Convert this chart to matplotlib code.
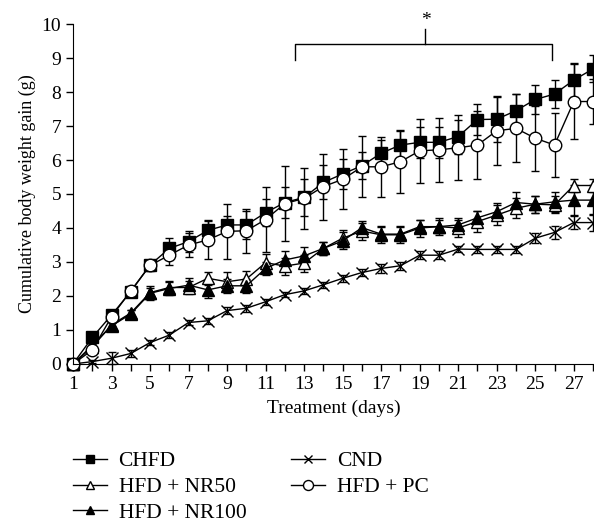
import numpy as np
import matplotlib
matplotlib.use("Agg")
from matplotlib import pyplot as plt

plt.rcParams['font.family'] = ['Liberation Serif', 'DejaVu Serif']

days = list(range(1, 29))

chfd = [0, 0.78, 1.44, 2.13, 2.91, 3.4, 3.6, 3.93, 4.09, 4.09, 4.45, 4.75, 4.9, 5.34,
        5.59, 5.83, 6.2, 6.44, 6.52, 6.52, 6.69, 7.19, 7.2, 7.45, 7.78, 7.94, 8.35, 8.68]
chfd_err = [0, 0.1, 0.12, 0.12, 0.12, 0.3, 0.3, 0.3, 0.25, 0.4, 0.4, 0.45, 0.55, 0.5,
            0.45, 0.4, 0.4, 0.4, 0.45, 0.45, 0.5, 0.45, 0.68, 0.5, 0.42, 0.4, 0.5, 0.4]

nr50 = [0, 0.5, 1.15, 1.5, 2.1, 2.25, 2.25, 2.52, 2.42, 2.5, 2.98, 2.88, 2.97, 3.4,
        3.7, 3.91, 3.8, 3.8, 4.0, 4.04, 4.0, 4.19, 4.38, 4.58, 4.7, 4.68, 5.25, 5.25]
nr50_err = [0, 0.08, 0.1, 0.1, 0.15, 0.2, 0.2, 0.2, 0.3, 0.25, 0.25, 0.25, 0.25, 0.2,
            0.25, 0.25, 0.25, 0.25, 0.25, 0.25, 0.25, 0.3, 0.3, 0.3, 0.25, 0.25, 0.2, 0.2]

nr100 = [0, 0.55, 1.12, 1.47, 2.08, 2.22, 2.32, 2.18, 2.3, 2.3, 2.81, 3.06, 3.18, 3.4,
         3.62, 4.01, 3.82, 3.82, 4.04, 4.04, 4.09, 4.3, 4.48, 4.75, 4.7, 4.77, 4.82, 4.82]
nr100_err = [0, 0.08, 0.1, 0.12, 0.2, 0.2, 0.2, 0.25, 0.2, 0.2, 0.2, 0.25, 0.25, 0.2,
             0.25, 0.2, 0.2, 0.2, 0.2, 0.2, 0.2, 0.2, 0.25, 0.3, 0.25, 0.3, 0.45, 0.45]

cnd = [0, 0.07, 0.17, 0.31, 0.63, 0.85, 1.22, 1.27, 1.57, 1.64, 1.83, 2.04, 2.15, 2.33,
       2.52, 2.69, 2.81, 2.89, 3.2, 3.2, 3.38, 3.37, 3.37, 3.37, 3.7, 3.87, 4.16, 4.16]
cnd_err = [0, 0.05, 0.18, 0.1, 0.08, 0.08, 0.08, 0.08, 0.1, 0.1, 0.08, 0.08, 0.08, 0.08,
           0.1, 0.1, 0.12, 0.12, 0.12, 0.12, 0.1, 0.1, 0.1, 0.1, 0.15, 0.2, 0.2, 0.25]

pc = [0, 0.41, 1.39, 2.15, 2.9, 3.2, 3.5, 3.65, 3.9, 3.92, 4.25, 4.72, 4.87, 5.22,
      5.43, 5.8, 5.8, 5.95, 6.27, 6.3, 6.36, 6.44, 6.86, 6.93, 6.64, 6.44, 7.72, 7.72]
pc_err = [0, 0.1, 0.1, 0.12, 0.15, 0.3, 0.35, 0.55, 0.8, 0.65, 0.95, 1.1, 0.9, 0.97,
          0.88, 0.9, 0.88, 0.93, 0.94, 0.95, 0.95, 1.0, 1.0, 1.0, 0.95, 0.95, 1.1, 0.65]

labels = ['CHFD', 'HFD + NR50', 'HFD + NR100', 'CND', 'HFD + PC']

# bracket for significance
br_start, br_end, br_mid = 12.52, 25.86, 19.3
br_y, br_low, br_top = 9.4, 8.94, 9.84

fig = plt.figure(figsize=(5.94, 5.22), dpi=100)
ax = fig.add_axes([73 / 594, 158 / 522, 521 / 594, 340 / 522])

styles = [
    dict(marker='s', mfc='black', ms=8),
    dict(marker='^', mfc='white', ms=8),
    dict(marker='^', mfc='black', ms=8),
    dict(marker='x', mfc='black', ms=8, mew=1.0),
    dict(marker='o', mfc='white', ms=9),
]
series = [(chfd, chfd_err), (nr50, nr50_err), (nr100, nr100_err),
          (cnd, cnd_err), (pc, pc_err)]

handles = []
for (vals, err), st, lab in zip(series, styles, labels):
    eb = ax.errorbar(days, vals, yerr=err, color='black', mec='black', lw=1.0,
                     elinewidth=1.0, capsize=3, capthick=1.0, label=lab,
                     clip_on=False, **st)
    handles.append(eb[0])

ax.set_xlim(1, 28.05)
ax.set_ylim(0, 10)
ax.set_xticks(range(1, 29, 2))
ax.set_xticks(range(1, 29), minor=True)
ax.set_yticks(range(0, 11))
ax.tick_params(axis='both', which='both', direction='out', length=5, width=1,
               labelsize=14)
for s in ['top', 'right']:
    ax.spines[s].set_visible(False)
ax.set_xlabel('Treatment (days)', fontsize=14, labelpad=5)
ax.set_ylabel('Cumulative body weight gain (g)', fontsize=13, labelpad=4)

# significance bracket
ax.plot([br_start, br_start, br_end, br_end], [br_low, br_y, br_y, br_low],
        color='black', lw=1.0, clip_on=False)
ax.plot([br_mid, br_mid], [br_y, br_top], color='black', lw=1.0, clip_on=False)
ax.text(br_mid, br_top + 0.02, '*', ha='center', va='bottom', fontsize=14,
        clip_on=False)

fig.legend(handles, labels, ncol=2, loc='upper left',
           bbox_to_anchor=(69 / 594, 1 - 447 / 522), frameon=False,
           fontsize=15.5, handlelength=1.55, handletextpad=0.55,
           columnspacing=2.1, labelspacing=0.26, markerscale=0.8,
           borderaxespad=0, borderpad=0.2)

fig.savefig('out.png', dpi=100)
